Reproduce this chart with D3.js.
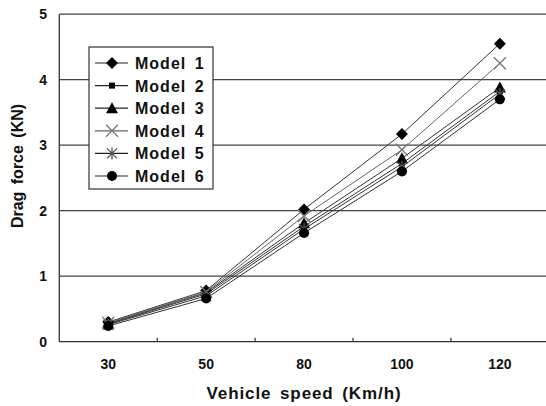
<!DOCTYPE html>
<html><head><meta charset="utf-8">
<script src="https://cdn.jsdelivr.net/npm/d3@7"></script>
<style>
html,body{margin:0;padding:0;background:#fff;}
svg text{font-family:"Liberation Sans",Arial,sans-serif;fill:#111;}
</style></head>
<body>
<svg id="c" width="546" height="406"></svg>
<script>
const categories = ["30","50","80","100","120"];
const seriesNames = ["Model 1","Model 2","Model 3","Model 4","Model 5","Model 6"];
const model1 = [0.30, 0.78, 2.02, 3.17, 4.55];
const model2 = [0.27, 0.73, 1.76, 2.72, 3.82];
const model3 = [0.28, 0.75, 1.81, 2.80, 3.88];
const model4 = [0.29, 0.76, 1.92, 2.93, 4.25];
const model5 = [0.26, 0.70, 1.72, 2.67, 3.78];
const model6 = [0.24, 0.66, 1.66, 2.60, 3.70];
const yTicks = [0,1,2,3,4,5];
const series = [model1, model2, model3, model4, model5, model6];
const markerTypes = ["diamond","square","triangle","x","asterisk","circle"];

const svg = d3.select("#c");
const x = d3.scaleBand().domain(categories).range([59.3, 548.8]).padding(0);
const y = d3.scaleLinear().domain([0,5]).range([341.7, 14.2]);
const cx = c => x(c) + x.bandwidth()/2;

// gridlines
svg.append("g").selectAll("line").data(yTicks.filter(t=>t>0)).join("line")
  .attr("x1", 59.3).attr("x2", 548).attr("y1", d=>y(d)).attr("y2", d=>y(d))
  .attr("stroke","#444").attr("stroke-width",1.2);

// axes lines
svg.append("line").attr("x1",59.3).attr("x2",59.3).attr("y1",y(5)).attr("y2",y(0)).attr("stroke","#333").attr("stroke-width",1.3);
svg.append("line").attr("x1",59.3).attr("x2",548).attr("y1",y(0)).attr("y2",y(0)).attr("stroke","#333").attr("stroke-width",1.3);

// x ticks between categories
svg.append("g").selectAll("line").data(categories.slice(1)).join("line")
  .attr("x1", d=>x(d)).attr("x2", d=>x(d)).attr("y1", y(0)).attr("y2", y(0)-4)
  .attr("stroke","#333").attr("stroke-width",1.2);

// x tick labels
svg.append("g").selectAll("text").data(categories).join("text")
  .attr("x", d=>cx(d)).attr("y", 369).attr("text-anchor","middle")
  .attr("font-size",14).attr("font-weight","bold").text(d=>d);

// y tick labels
svg.append("g").selectAll("text").data(yTicks).join("text")
  .attr("x", 47).attr("y", d=>y(d)+5).attr("text-anchor","end")
  .attr("font-size",14).attr("font-weight","bold").text(d=>d);

// axis titles
svg.append("text").attr("x",304).attr("y",399).attr("text-anchor","middle")
  .attr("font-size",17).attr("font-weight","bold").style("letter-spacing","0.9px").style("word-spacing","3px")
  .text("Vehicle speed (Km/h)");
svg.append("text").attr("transform","translate(23,166) rotate(-90)").attr("text-anchor","middle")
  .attr("font-size",16).attr("font-weight","bold").style("word-spacing","3px")
  .text("Drag force (KN)");

function drawMarker(g, type, px, py, col){
  if(type==="diamond"){
    g.append("path").attr("d",`M${px},${py-6}L${px+6},${py}L${px},${py+6}L${px-6},${py}Z`).attr("fill",col);
  } else if(type==="square"){
    g.append("rect").attr("x",px-3).attr("y",py-3).attr("width",6).attr("height",6).attr("fill",col);
  } else if(type==="triangle"){
    g.append("path").attr("d",`M${px},${py-6}L${px+6},${py+5}L${px-6},${py+5}Z`).attr("fill",col);
  } else if(type==="x"){
    g.append("path").attr("d",`M${px-6},${py-6}L${px+6},${py+6}M${px+6},${py-6}L${px-6},${py+6}`).attr("stroke","#777").attr("stroke-width",1.3).attr("fill","none");
  } else if(type==="asterisk"){
    g.append("path").attr("d",`M${px-5},${py-5}L${px+5},${py+5}M${px+5},${py-5}L${px-5},${py+5}M${px},${py-6}L${px},${py+6}`).attr("stroke","#555").attr("stroke-width",1.3).attr("fill","none");
  } else {
    g.append("circle").attr("cx",px).attr("cy",py).attr("r",5).attr("fill",col);
  }
}

const line = d3.line().x((d,i)=>cx(categories[i])).y(d=>y(d));
const plot = svg.append("g");
series.forEach((s,k)=>{
  plot.append("path").attr("d", line(s)).attr("fill","none")
    .attr("stroke", k===3 ? "#666" : "#333").attr("stroke-width",1);
});
series.forEach((s,k)=>{
  const g = plot.append("g");
  s.forEach((v,i)=> drawMarker(g, markerTypes[k], cx(categories[i]), y(v), "#000"));
});

// legend
const lg = svg.append("g");
lg.append("rect").attr("x",89).attr("y",47).attr("width",124).attr("height",142)
  .attr("fill","#fff").attr("stroke","#333").attr("stroke-width",1.2);
seriesNames.forEach((n,k)=>{
  const ly = 63 + k*22.6;
  lg.append("line").attr("x1",95).attr("x2",128).attr("y1",ly).attr("y2",ly)
    .attr("stroke", k===3 ? "#666" : "#222").attr("stroke-width",1.2);
  drawMarker(lg, markerTypes[k], 112, ly, "#000");
  lg.append("text").attr("x",135).attr("y",ly+6).attr("font-size",16).attr("font-weight","bold")
    .style("letter-spacing","1px").style("word-spacing","3px").text(n);
});
</script>
</body></html>
